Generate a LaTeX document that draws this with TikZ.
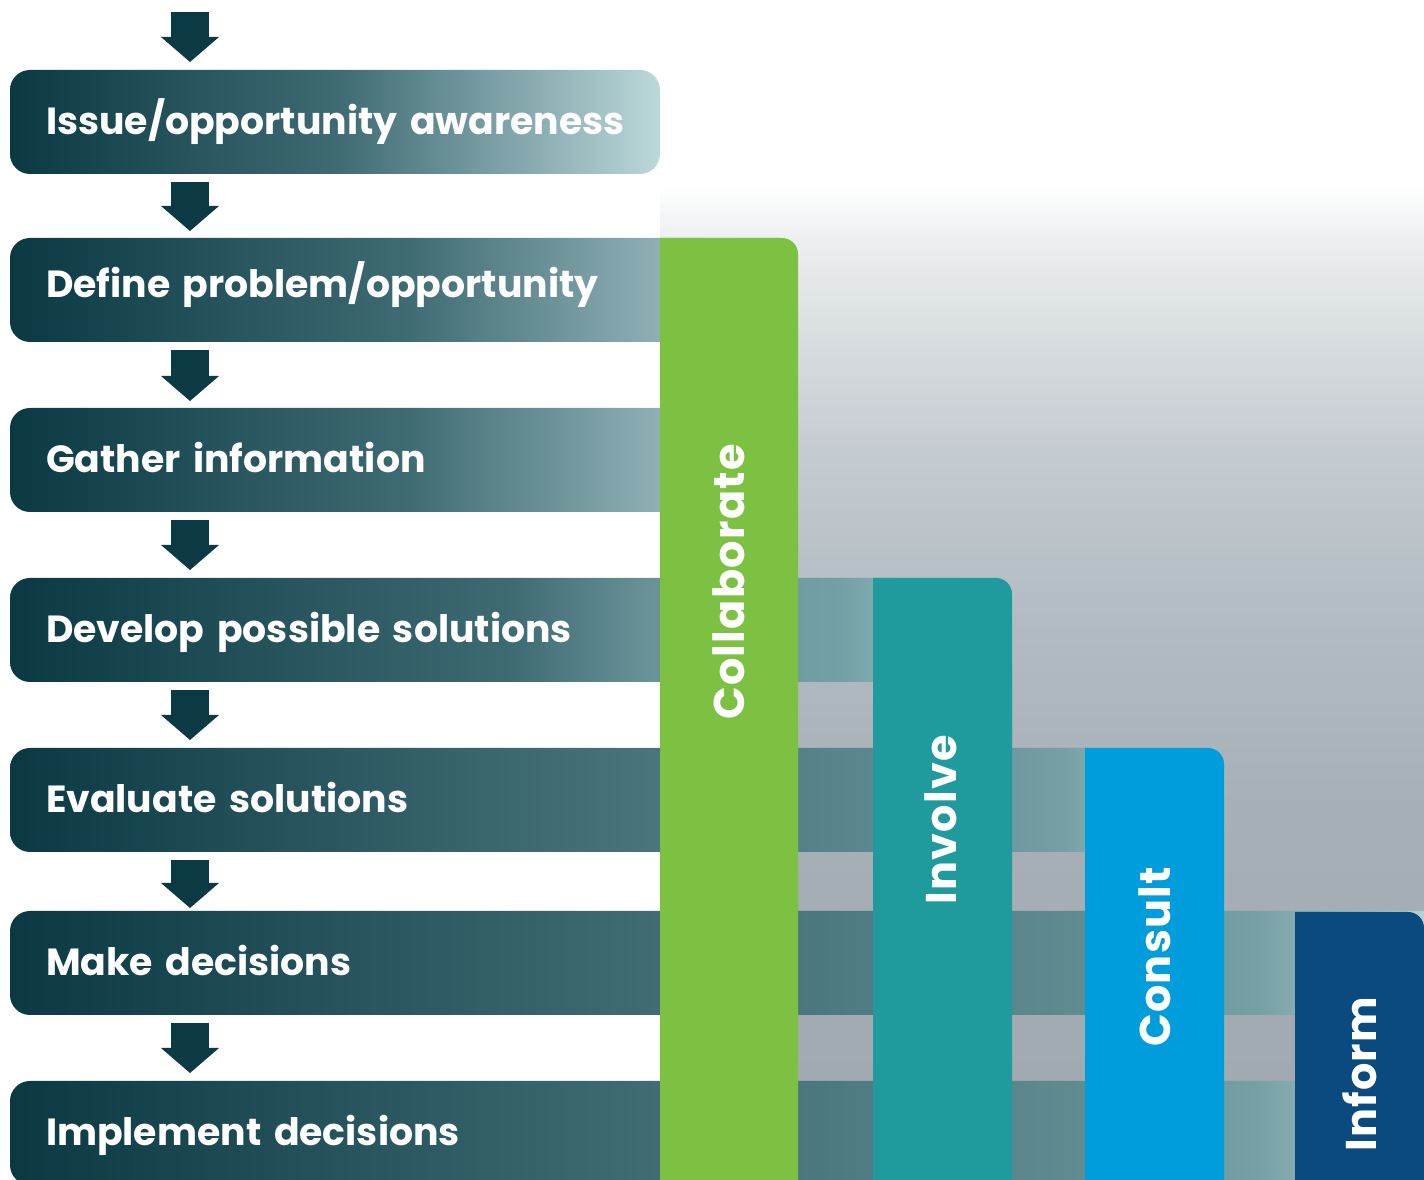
\documentclass[tikz,border=0pt]{standalone}
\usepackage{fontspec}
\setmainfont{Poppins}
\newfontfamily\levelfamily{Poppins}[LetterSpace=3.0]
\usetikzlibrary{arrows.meta}

\definecolor{stagedark}{HTML}{0A3943}
\definecolor{stagemid}{HTML}{3E6A72}
\definecolor{stageteal}{HTML}{88ABB0}
\definecolor{stagepale}{HTML}{BCD8DA}
\definecolor{midteal}{HTML}{6A9399}
\definecolor{midpale}{HTML}{72A0A5}
\definecolor{longmid}{HTML}{426D75}
\definecolor{longteal}{HTML}{5E8A90}
\definecolor{longpale}{HTML}{77A0A5}
\definecolor{flowdark}{HTML}{0B3A44}
\definecolor{collabgreen}{HTML}{7DC142}
\definecolor{involveteal}{HTML}{1F9B9D}
\definecolor{consultblue}{HTML}{009DDC}
\definecolor{informblue}{HTML}{0B4A7E}
\definecolor{greya}{HTML}{9EA8AE}
\definecolor{greyb}{HTML}{A6B0B6}
\definecolor{greyc}{HTML}{B3BDC3}
\definecolor{greyd}{HTML}{C5CCD1}
\definecolor{greye}{HTML}{D8DDE0}
\definecolor{greyf}{HTML}{ECEFF0}

\pgfdeclarehorizontalshading{shortshade}{100bp}{color(0bp)=(stagedark); color(25bp)=(stagedark); color(50bp)=(stagemid); color(65bp)=(stageteal); color(75bp)=(stagepale); color(100bp)=(stagepale)}
\pgfdeclarehorizontalshading{midshade}{100bp}{color(0bp)=(stagedark); color(25bp)=(stagedark); color(50bp)=(stagemid); color(57bp)=(midteal); color(66.5bp)=(midpale); color(75bp)=(stagepale); color(100bp)=(stagepale)}
\pgfdeclarehorizontalshading{longshade}{100bp}{color(0bp)=(stagedark); color(25bp)=(stagedark); color(48bp)=(longmid); color(62bp)=(longteal); color(68.5bp)=(longpale); color(75bp)=(stagepale); color(100bp)=(stagepale)}
\pgfdeclareverticalshading{greyfall}{100bp}{color(0bp)=(greya); color(25bp)=(greya); color(44bp)=(greyb); color(54bp)=(greyc); color(61.7bp)=(greyd); color(67.2bp)=(greye); color(72.2bp)=(greyf); color(75bp)=(white); color(100bp)=(white)}

\newcommand\stepfont{\bfseries\fontsize{37.8}{40}\selectfont}
\newcommand\levelfont{\levelfamily\bfseries\fontsize{43}{46}\selectfont}

\begin{document}
\begin{tikzpicture}[x=1pt, y=1pt,
    stage/.style={rectangle, rounded corners=20pt, shade, shading=shortshade, anchor=north west,
      minimum height=104pt, inner xsep=36pt, inner ysep=0pt, outer sep=0pt, align=left,
      text=white, font=\stepfont, text height=26pt, text depth=0pt},
    flow/.style={draw=flowdark, line width=38pt, -{Triangle[width=58pt, length=25pt, line width=0pt]}},
    level/.style={rotate=90, anchor=west, inner sep=0pt, text=white, font=\levelfont,
      text height=30pt, text depth=0pt}
  ]
  \useasboundingbox (0,0) rectangle (1424,1180);
  \clip (0,0) rectangle (1424,1180);

  % grey backdrop behind the levels
  \shade[shading=greyfall] (660,0) rectangle (1424,995);

  % process steps
  \node[stage, text width=578pt] (s1) at (10,1110) {\mbox{Issue/opportunity awareness}};
  \node[stage, text width=716pt, text depth=10pt] (s2) at (10,942) {Define problem/opportunity};
  \node[stage, text width=716pt] (s3) at (10,772) {Gather information};
  \node[stage, text width=930pt, shading=midshade] (s4) at (10,602) {Develop possible solutions};
  \node[stage, text width=1142pt, shading=longshade] (s5) at (10,432) {Evaluate solutions};
  \node[stage, text width=1362pt, shading=longshade] (s6) at (10,269) {Make decisions};
  \node[stage, text width=1362pt, shading=longshade] (s7) at (10,99) {Implement decisions};

  \coordinate (entry) at (190,1168);
  \draw[flow] (entry) -- ([xshift=180pt,yshift=8pt]s1.north west);
  \foreach \a/\b/\g in {s1/s2/7,s2/s3/7,s3/s4/8,s4/s5/8,s5/s6/3,s6/s7/8}
    \draw[flow] ([xshift=180pt,yshift=-8pt]\a.south west) -- ([xshift=180pt,yshift=\g pt]\b.north west);

  % engagement levels
  \fill[collabgreen] (660,-20) |- (782,942) arc[start angle=90, end angle=0, radius=16pt] -- (798,-20) -- cycle;
  \fill[involveteal] (873,-20) |- (996,602) arc[start angle=90, end angle=0, radius=16pt] -- (1012,-20) -- cycle;
  \fill[consultblue] (1085,-20) |- (1208,432) arc[start angle=90, end angle=0, radius=16pt] -- (1224,-20) -- cycle;
  \fill[informblue] (1295,-20) |- (1408,268) arc[start angle=90, end angle=0, radius=16pt] -- (1424,-20) -- cycle;

  \node[level] (collab) at (729,460) {Collaborate};
  \node[level] (involve) at (941,275) {Involve};
  \node[level] (consult) at (1155,133) {Consult};
  \node[level] (inform) at (1361,28) {Inform};
\end{tikzpicture}
\end{document}
